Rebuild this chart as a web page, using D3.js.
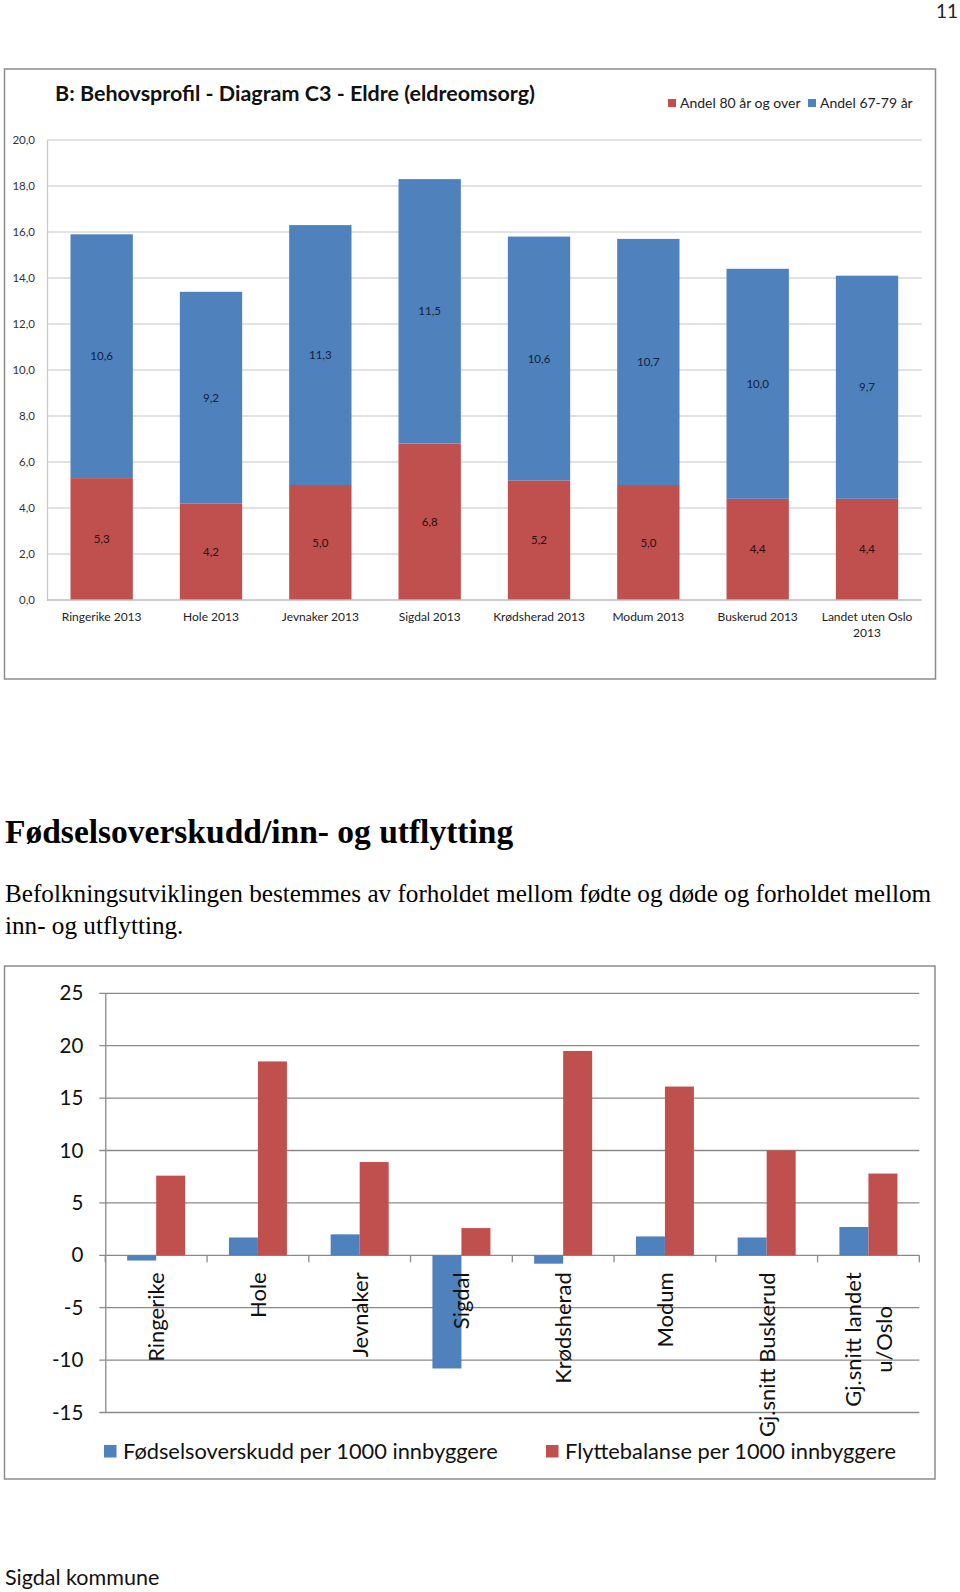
<!DOCTYPE html>
<html>
<head>
<meta charset="utf-8">
<script src="https://cdn.jsdelivr.net/npm/d3@7"></script>
<style>
  html, body { margin: 0; padding: 0; background: #fff; }
  svg { display: block; }
  .sans { font-family: Lato, "Open Sans", "Liberation Sans", sans-serif; }
  .serif { font-family: "Liberation Serif", "DejaVu Serif", serif; }
</style>
</head>
<body>
<svg id="page" width="960" height="1592"></svg>
<script>
// ---------------- DATA ----------------
// Chart 1: Behovsprofil - Diagram C3 - Eldre (eldreomsorg)
const c1Categories = ["Ringerike 2013", "Hole 2013", "Jevnaker 2013", "Sigdal 2013",
  "Krødsherad 2013", "Modum 2013", "Buskerud 2013", "Landet uten Oslo 2013"];
const c1Andel80 = [5.3, 4.2, 5.0, 6.8, 5.2, 5.0, 4.4, 4.4];
const c1Andel6779 = [10.6, 9.2, 11.3, 11.5, 10.6, 10.7, 10.0, 9.7];
const c1SeriesNames = ["Andel 80 år og over", "Andel 67-79 år"];
const c1Ticks = [0, 2, 4, 6, 8, 10, 12, 14, 16, 18, 20];

// Chart 2: Fødselsoverskudd / flyttebalanse
const c2Categories = ["Ringerike", "Hole", "Jevnaker", "Sigdal", "Krødsherad", "Modum",
  "Gj.snitt Buskerud", "Gj.snitt landet\nu/Oslo"];
const c2Fodsel = [-0.5, 1.7, 2.0, -10.8, -0.8, 1.8, 1.7, 2.7];
const c2Flytte = [7.6, 18.5, 8.9, 2.6, 19.5, 16.1, 10.0, 7.8];
const c2SeriesNames = ["Fødselsoverskudd per 1000 innbyggere", "Flyttebalanse per 1000 innbyggere"];
const c2Ticks = [-15, -10, -5, 0, 5, 10, 15, 20, 25];

// ---------------- STYLE ----------------
const RED = "#C0504D", BLUE = "#4F81BD";

const svg = d3.select("#page");
svg.append("rect").attr("width", 960).attr("height", 1592).attr("fill", "#fff");

// page number + footer
svg.append("text").attr("class", "sans").attr("x", 958).attr("y", 18)
  .attr("text-anchor", "end").attr("font-size", 19).attr("fill", "#222").text("11");
svg.append("text").attr("class", "sans").attr("x", 5).attr("y", 1585)
  .attr("font-size", 21.5).attr("fill", "#111").text("Sigdal kommune");

// ================= CHART 1 =================
(function () {
  const g = svg.append("g");
  g.append("rect").attr("x", 4.5).attr("y", 69).attr("width", 931).attr("height", 610)
    .attr("fill", "#fff").attr("stroke", "#8c8c8c").attr("stroke-width", 1.5);

  g.append("text").attr("class", "sans").attr("x", 55).attr("y", 101)
    .attr("font-size", 21.5).attr("font-weight", "bold").attr("fill", "#111")
    .text("B: Behovsprofil - Diagram C3 - Eldre (eldreomsorg)");

  const x = d3.scaleBand().domain(c1Categories).range([47, 921.7])
    .paddingInner(0.43).paddingOuter(0.215);
  const y = d3.scaleLinear().domain([0, 20]).range([600, 140]);
  const fmt = v => d3.format(".1f")(v).replace(".", ",");

  // gridlines
  g.selectAll(".grid").data(c1Ticks.filter(t => t > 0)).enter().append("line")
    .attr("x1", 47).attr("x2", 921.7)
    .attr("y1", d => y(d)).attr("y2", d => y(d))
    .attr("stroke", "#d9d9d9").attr("stroke-width", 1.3);

  // y axis
  const yAxis = d3.axisLeft(y).tickValues(c1Ticks).tickSize(0).tickPadding(12).tickFormat(fmt);
  const ya = g.append("g").attr("transform", "translate(47,0)").call(yAxis);
  ya.select(".domain").attr("stroke", "#c8c8c8").attr("stroke-width", 1.3);
  ya.selectAll("text").attr("class", "sans").attr("font-size", 11.5).attr("fill", "#333");

  // stacked bars
  const rows = c1Categories.map((c, i) => ({ cat: c, a80: c1Andel80[i], a67: c1Andel6779[i] }));
  const stack = d3.stack().keys(["a80", "a67"])(rows);
  const colors = { a80: RED, a67: BLUE };
  stack.forEach(layer => {
    g.selectAll(null).data(layer).enter().append("rect")
      .attr("x", d => x(d.data.cat)).attr("width", x.bandwidth())
      .attr("y", d => y(d[1])).attr("height", d => y(d[0]) - y(d[1]))
      .attr("fill", colors[layer.key]);
    g.selectAll(null).data(layer).enter().append("text")
      .attr("class", "sans")
      .attr("x", d => x(d.data.cat) + x.bandwidth() / 2)
      .attr("y", d => y((d[0] + d[1]) / 2))
      .attr("dy", "0.35em").attr("text-anchor", "middle")
      .attr("font-size", 11.5)
      .attr("fill", layer.key === "a80" ? "#2a0d0d" : "#14213d")
      .text(d => fmt(d.data[layer.key]));
  });

  // x axis baseline
  g.append("line").attr("x1", 47).attr("x2", 921.7).attr("y1", y(0)).attr("y2", y(0))
    .attr("stroke", "#bdbdbd").attr("stroke-width", 1.3);

  // category labels (wrap the long one)
  c1Categories.forEach(c => {
    const cx = x(c) + x.bandwidth() / 2;
    const t = g.append("text").attr("class", "sans").attr("text-anchor", "middle")
      .attr("font-size", 12).attr("fill", "#222");
    const lines = c === "Landet uten Oslo 2013" ? ["Landet uten Oslo", "2013"] : [c];
    lines.forEach((ln, i) => t.append("tspan").attr("x", cx).attr("y", 621 + i * 15.5).text(ln));
  });

  // legend
  const leg = g.append("g").attr("class", "sans");
  const items = [{ name: c1SeriesNames[0], color: RED, x: 668 }, { name: c1SeriesNames[1], color: BLUE, x: 808 }];
  items.forEach(it => {
    leg.append("rect").attr("x", it.x).attr("y", 99).attr("width", 8).attr("height", 8).attr("fill", it.color);
    leg.append("text").attr("x", it.x + 12).attr("y", 108).attr("font-size", 14)
      .attr("fill", "#222").text(it.name);
  });
})();

// ================= TEXT SECTION =================
svg.append("text").attr("class", "serif").attr("x", 5).attr("y", 843)
  .attr("font-size", 33.5).attr("font-weight", "bold").attr("fill", "#000")
  .text("Fødselsoverskudd/inn- og utflytting");
svg.append("text").attr("class", "serif").attr("x", 5).attr("y", 902)
  .attr("font-size", 25.2).attr("fill", "#000")
  .text("Befolkningsutviklingen bestemmes av forholdet mellom fødte og døde og forholdet mellom");
svg.append("text").attr("class", "serif").attr("x", 5).attr("y", 934)
  .attr("font-size", 25.2).attr("fill", "#000")
  .text("inn- og utflytting.");

// ================= CHART 2 =================
(function () {
  const g = svg.append("g");
  g.append("rect").attr("x", 4.5).attr("y", 966).attr("width", 930.5).attr("height", 513)
    .attr("fill", "#fff").attr("stroke", "#8c8c8c").attr("stroke-width", 1.5);

  const left = 105.3, right = 919.3;
  const x0 = d3.scaleBand().domain(c2Categories).range([left, right]).padding(0);
  const x1 = d3.scaleBand().domain(["fodsel", "flytte"]).range([0, x0.bandwidth()])
    .paddingInner(0).paddingOuter(0.754);
  const y = d3.scaleLinear().domain([-15, 25]).range([1412.5, 993.3]);

  // gridlines
  g.selectAll(".grid").data(c2Ticks).enter().append("line")
    .attr("x1", left - 6).attr("x2", right)
    .attr("y1", d => y(d)).attr("y2", d => y(d))
    .attr("stroke", "#8a8a8a").attr("stroke-width", 1.3);

  // y axis
  const yAxis = d3.axisLeft(y).tickValues(c2Ticks).tickSize(0).tickPadding(22).tickFormat(d3.format("d"));
  const ya = g.append("g").attr("transform", `translate(${left},0)`).call(yAxis);
  ya.select(".domain").attr("stroke", "#8a8a8a").attr("stroke-width", 1.3);
  ya.selectAll("text").attr("class", "sans").attr("font-size", 20.5).attr("fill", "#111")
    .text(d => d < 0 ? "-" + Math.abs(d) : d);

  // bars
  const rows = c2Categories.map((c, i) => ({ cat: c, fodsel: c2Fodsel[i], flytte: c2Flytte[i] }));
  const colors = { fodsel: BLUE, flytte: RED };
  rows.forEach(r => {
    ["fodsel", "flytte"].forEach(k => {
      g.append("rect")
        .attr("x", x0(r.cat) + x1(k)).attr("width", x1.bandwidth())
        .attr("y", y(Math.max(0, r[k]))).attr("height", Math.abs(y(r[k]) - y(0)))
        .attr("fill", colors[k]);
    });
  });

  // category tick marks on the zero line
  const bounds = c2Categories.map(c => x0(c)).concat([right]);
  g.selectAll(null).data(bounds).enter().append("line")
    .attr("x1", d => d).attr("x2", d => d).attr("y1", y(0)).attr("y2", y(0) + 7)
    .attr("stroke", "#8a8a8a").attr("stroke-width", 1.3);

  // rotated category labels
  c2Categories.forEach(c => {
    const cx = x0(c) + x0.bandwidth() / 2;
    const lines = c.split("\n");
    const top = y(0) + 17;
    const lg = g.append("g");
    const texts = lines.map((ln, i) => lg.append("text").attr("class", "sans")
      .attr("font-size", 22).attr("fill", "#111").text(ln));
    const maxLen = d3.max(texts, t => t.node().getComputedTextLength());
    texts.forEach((t, i) => {
      const lx = cx + (i - (lines.length - 1) / 2) * 30.5 + 8;
      const ly = top + maxLen / 2;
      t.attr("text-anchor", "middle")
        .attr("transform", `translate(${lx},${ly}) rotate(-90)`);
    });
  });

  // legend
  const items = [{ name: c2SeriesNames[0], color: BLUE, x: 104 }, { name: c2SeriesNames[1], color: RED, x: 546 }];
  items.forEach(it => {
    g.append("rect").attr("x", it.x).attr("y", 1445).attr("width", 12.5).attr("height", 12.5).attr("fill", it.color);
    g.append("text").attr("class", "sans").attr("x", it.x + 19).attr("y", 1458.5)
      .attr("font-size", 21.8).attr("fill", "#111").text(it.name);
  });
})();
</script>
</body>
</html>
